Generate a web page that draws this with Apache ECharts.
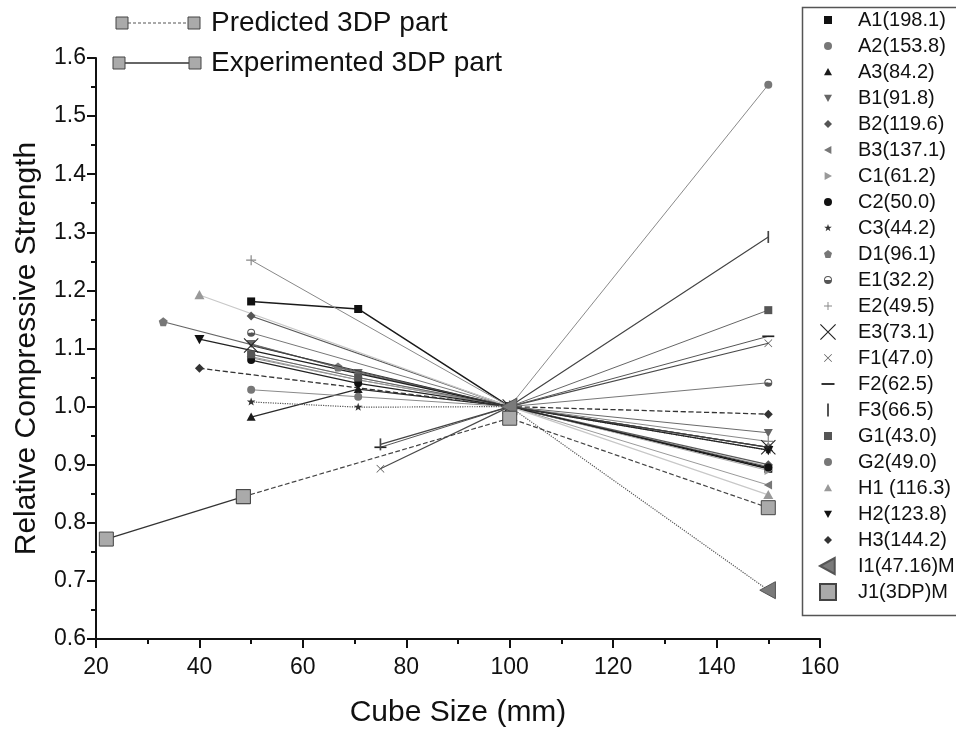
<!DOCTYPE html>
<html>
<head>
<meta charset="utf-8">
<title>Relative Compressive Strength vs Cube Size</title>
<script src="https://cdn.jsdelivr.net/npm/echarts@6/dist/echarts.min.js"></script>
<style>
  html, body { margin: 0; padding: 0; background: #ffffff; }
  #chart { width: 956px; height: 731px; }
</style>
</head>
<body>
<div id="chart"></div>
<script>
// ---- data: [cube size (mm), relative compressive strength] ----
const A1 = [[50, 1.181], [70.7, 1.168], [100, 1.0], [150, 0.893]];
const A2 = [[50, 1.084], [70.7, 1.046], [100, 1.0], [150, 0.897]];
const A3 = [[50, 0.982], [70.7, 1.030], [100, 1.0], [150, 0.930]];
const B1 = [[50, 1.108], [70.7, 1.058], [100, 1.0], [150, 0.955]];
const B2 = [[50, 1.156], [100, 1.0], [150, 0.900]];
const B3 = [[50, 1.086], [70.7, 1.046], [100, 1.0], [150, 0.865]];
const C1 = [[50, 1.090], [70.7, 1.050], [100, 1.0], [150, 0.890]];
const C2 = [[50, 1.080], [70.7, 1.040], [100, 1.0], [150, 0.895]];
const C3 = [[50, 1.008], [70.7, 0.999], [100, 1.0], [150, 0.925]];
const D1 = [[33, 1.146], [66.8, 1.068], [100, 1.0], [150, 0.930]];
const E1 = [[50, 1.127], [100, 1.0], [150, 1.041]];
const E2 = [[50, 1.252], [100, 1.0], [150, 0.940]];
const E3 = [[50, 1.105], [100, 1.0], [150, 0.930]];
const F1 = [[75, 0.893], [100, 1.0], [150, 1.109]];
const F2 = [[75, 0.930], [100, 1.0], [150, 1.121]];
const F3 = [[75, 0.935], [100, 1.0], [150, 1.292]];
const G1 = [[50, 1.090], [70.7, 1.050], [100, 1.0], [150, 1.166]];
const G2 = [[50, 1.029], [70.7, 1.017], [100, 1.0], [150, 1.554]];
const H1 = [[40, 1.192], [100, 1.0], [150, 0.848]];
const H2 = [[40, 1.116], [100, 1.0], [150, 0.925]];
const H3 = [[40, 1.066], [100, 1.0], [150, 0.987]];
const I1 = [[100, 1.0], [150, 0.684]];
const J1Predicted = [[48.5, 0.845], [100, 0.980], [150, 0.826]];
const J1Experimented = [[22, 0.772], [48.5, 0.845]];

const seriesNames = ['A1(198.1)', 'A2(153.8)', 'A3(84.2)', 'B1(91.8)', 'B2(119.6)', 'B3(137.1)',
  'C1(61.2)', 'C2(50.0)', 'C3(44.2)', 'D1(96.1)', 'E1(32.2)', 'E2(49.5)', 'E3(73.1)',
  'F1(47.0)', 'F2(62.5)', 'F3(66.5)', 'G1(43.0)', 'G2(49.0)', 'H1 (116.3)', 'H2(123.8)',
  'H3(144.2)', 'I1(47.16)M', 'J1(3DP)M'];
const seriesData = [A1, A2, A3, B1, B2, B3, C1, C2, C3, D1, E1, E2, E3,
  F1, F2, F3, G1, G2, H1, H2, H3, I1, J1Predicted];

const keyLabels = ['Predicted 3DP part', 'Experimented 3DP part'];

const xTicks = { min: 20, max: 160, step: 20 };
const yTicks = { min: 0.6, max: 1.6, step: 0.1 };

// ---- marker shapes, unit coordinates centred on 0 ----
const SHAPES = {
  square: [[[-0.5, -0.5], [0.5, -0.5], [0.5, 0.5], [-0.5, 0.5]]],
  triUp: [[[0, -0.5], [0.5, 0.42], [-0.5, 0.42]]],
  triDown: [[[-0.5, -0.42], [0.5, -0.42], [0, 0.5]]],
  triLeft: [[[-0.5, 0], [0.42, -0.5], [0.42, 0.5]]],
  triRight: [[[0.5, 0], [-0.42, -0.5], [-0.42, 0.5]]],
  diamond: [[[0, -0.5], [0.5, 0], [0, 0.5], [-0.5, 0]]],
  pentagon: [[[0, -0.5], [0.5, -0.12], [0.31, 0.5], [-0.31, 0.5], [-0.5, -0.12]]],
  star: [[[0, -0.5], [0.118, -0.162], [0.476, -0.155], [0.19, 0.062], [0.294, 0.405],
          [0, 0.2], [-0.294, 0.405], [-0.19, 0.062], [-0.476, -0.155], [-0.118, -0.162]]],
  plus: [[[-0.06, -0.5], [0.06, -0.5], [0.06, 0.5], [-0.06, 0.5]],
         [[-0.5, -0.06], [0.5, -0.06], [0.5, 0.06], [-0.5, 0.06]]],
  cross: [[[-0.5, -0.44], [-0.44, -0.5], [0.5, 0.44], [0.44, 0.5]],
          [[0.44, -0.5], [0.5, -0.44], [-0.44, 0.5], [-0.5, 0.44]]],
  crossThin: [[[-0.5, -0.45], [-0.45, -0.5], [0.5, 0.45], [0.45, 0.5]],
              [[0.45, -0.5], [0.5, -0.45], [-0.45, 0.5], [-0.5, 0.45]]],
  hbar: [[[-0.5, -0.07], [0.5, -0.07], [0.5, 0.07], [-0.5, 0.07]]],
  vbar: [[[-0.07, -0.5], [0.07, -0.5], [0.07, 0.5], [-0.07, 0.5]]]
};

// Path drawn inside a square frame (the two leading move-tos only fix its bounds),
// so every symbol keeps its own size within the frame.
function shapePath(shape, size, frame) {
  const c = frame / 2;
  const f = (v) => (+v).toFixed(3);
  let d = 'M0,0 M' + f(frame) + ',' + f(frame) + ' ';
  const circle = (r, sweep) =>
    'M' + f(c - r) + ',' + f(c) + ' A' + f(r) + ',' + f(r) + ' 0 1,' + sweep + ' ' + f(c + r) + ',' + f(c) +
    ' A' + f(r) + ',' + f(r) + ' 0 1,' + sweep + ' ' + f(c - r) + ',' + f(c) + ' Z ';
  if (shape === 'circle') {
    d += circle(size / 2, 0);
  } else if (shape === 'halfCircle') {
    // outlined circle whose lower half is filled
    const r = size / 2, ri = r - 1;
    d += circle(r, 0) + circle(ri, 1);
    d += 'M' + f(c - ri) + ',' + f(c) + ' A' + f(ri) + ',' + f(ri) + ' 0 0,0 ' + f(c + ri) + ',' + f(c) + ' Z';
  } else {
    SHAPES[shape].forEach((poly) => {
      poly.forEach((p, i) => {
        d += (i === 0 ? 'M' : 'L') + f(c + p[0] * size) + ',' + f(c + p[1] * size) + ' ';
      });
      d += 'Z ';
    });
  }
  return 'path://' + d;
}

// ---- look of each series ----
const LOOK = {
  'A1(198.1)':  { shape: 'square',   size: 8,  fill: '#111', line: '#1a1a1a', width: 1.5, type: 'solid' },
  'A2(153.8)':  { shape: 'circle',   size: 7,  fill: '#777', line: '#8a8a8a', width: 1,   type: 'solid' },
  'A3(84.2)':   { shape: 'triUp',    size: 9,  fill: '#1a1a1a', line: '#2a2a2a', width: 1.3, type: 'solid' },
  'B1(91.8)':   { shape: 'triDown',  size: 9,  fill: '#666', line: '#6a6a6a', width: 1,   type: 'solid' },
  'B2(119.6)':  { shape: 'diamond',  size: 9,  fill: '#555', line: '#5a5a5a', width: 1.2, type: 'solid' },
  'B3(137.1)':  { shape: 'triLeft',  size: 9,  fill: '#777', line: '#9a9a9a', width: 1,   type: 'solid' },
  'C1(61.2)':   { shape: 'triRight', size: 9,  fill: '#999', line: '#aaaaaa', width: 1,   type: 'solid' },
  'C2(50.0)':   { shape: 'circle',   size: 8,  fill: '#111', line: '#222222', width: 1.2, type: 'solid' },
  'C3(44.2)':   { shape: 'star',     size: 9,  fill: '#333', line: '#555555', width: 1.2, type: 'dotted' },
  'D1(96.1)':   { shape: 'pentagon', size: 9,  fill: '#777', line: '#666666', width: 1.2, type: 'solid' },
  'E1(32.2)':   { shape: 'halfCircle', size: 8, fill: '#555', line: '#777777', width: 1,  type: 'solid' },
  'E2(49.5)':   { shape: 'plus',     size: 10, fill: '#888', line: '#888888', width: 1,   type: 'solid' },
  'E3(73.1)':   { shape: 'crossThin',size: 15, fill: '#222', line: '#3a3a3a', width: 1,   type: 'solid' },
  'F1(47.0)':   { shape: 'cross',    size: 8,  fill: '#555', line: '#4a4a4a', width: 1.2, type: 'solid' },
  'F2(62.5)':   { shape: 'hbar',     size: 12, fill: '#222', line: '#555555', width: 1,   type: 'solid' },
  'F3(66.5)':   { shape: 'vbar',     size: 12, fill: '#444', line: '#444444', width: 1.2, type: 'solid' },
  'G1(43.0)':   { shape: 'square',   size: 8,  fill: '#555', line: '#666666', width: 1,   type: 'solid' },
  'G2(49.0)':   { shape: 'circle',   size: 8,  fill: '#777', line: '#8a8a8a', width: 1,   type: 'solid' },
  'H1 (116.3)': { shape: 'triUp',    size: 10, fill: '#999', line: '#c8c8c8', width: 1.2, type: 'solid' },
  'H2(123.8)':  { shape: 'triDown',  size: 10, fill: '#111', line: '#222222', width: 1.3, type: 'solid' },
  'H3(144.2)':  { shape: 'diamond',  size: 9,  fill: '#333', line: '#333333', width: 1.3, type: 'dashed' },
  'I1(47.16)M': { shape: 'triLeft',  size: 17, fill: '#7a7a7a', line: '#555555', width: 1.2, type: 'dotted', border: '#555' },
  'J1(3DP)M':   { shape: 'square',   size: 14, fill: '#aaaaaa', line: '#444444', width: 1.2, type: 'dashed', border: '#444' }
};

const FONT = '"Liberation Sans", Arial, Helvetica, sans-serif';
const FRAME_LEGEND = 18;

function lineSeries(name, data, look, extra) {
  const frame = look.size + 2;
  return Object.assign({
    name: name,
    type: 'line',
    data: data,
    symbol: shapePath(look.shape, look.size, frame),
    symbolSize: frame,
    symbolKeepAspect: true,
    showAllSymbol: true,
    animation: false,
    itemStyle: {
      color: look.fill,
      borderColor: look.border || look.fill,
      borderWidth: look.border ? 1 : 0,
      opacity: 1
    },
    lineStyle: { color: look.line, width: look.width, type: look.type },
    emphasis: { disabled: true },
    z: look.size >= 14 ? 4 : 3
  }, extra || {});
}

const series = seriesNames.map((n, i) => lineSeries(n, seriesData[i], LOOK[n]));
// measured segment of the 3DP part (drawn solid)
series.push(lineSeries('J1 experimented', J1Experimented, LOOK['J1(3DP)M'],
  { lineStyle: { color: '#333333', width: 1.3, type: 'solid' } }));

const legendData = seriesNames.map((n) => {
  const look = LOOK[n];
  const legendSize = look.size >= 14 ? 16 : (look.shape === 'hbar' || look.shape === 'vbar' ? 13 : 8);
  return { name: n, icon: shapePath(look.shape, legendSize, FRAME_LEGEND) };
});

const chart = echarts.init(document.getElementById('chart'), null, { renderer: 'canvas' });

const axisCommon = {
  type: 'value',
  nameLocation: 'middle',
  nameTextStyle: { fontFamily: FONT, fontSize: 30, color: '#111' },
  axisLine: { show: true, onZero: false, lineStyle: { color: '#111', width: 2 } },
  axisTick: { show: true, inside: false, length: 9, lineStyle: { color: '#111', width: 2 } },
  minorTick: { show: true, splitNumber: 2, length: 5, lineStyle: { color: '#111', width: 2 } },
  splitLine: { show: false }
};

const option = {
  backgroundColor: '#ffffff',
  animation: false,
  grid: { left: 96, right: 136, top: 58, bottom: 92, containLabel: false, outerBoundsMode: 'none' },
  xAxis: Object.assign({}, axisCommon, {
    min: xTicks.min, max: xTicks.max, interval: xTicks.step,
    name: 'Cube Size (mm)',
    nameGap: 59,
    axisLabel: { fontFamily: FONT, fontSize: 23, color: '#111', margin: 17 }
  }),
  yAxis: Object.assign({}, axisCommon, {
    min: yTicks.min, max: yTicks.max, interval: yTicks.step,
    name: 'Relative Compressive Strength',
    nameGap: 54,
    axisLabel: {
      fontFamily: FONT, fontSize: 23, color: '#111', margin: 10,
      formatter: (v) => v.toFixed(1)
    }
  }),
  legend: {
    orient: 'vertical',
    left: 818, top: 10,
    padding: 0,
    itemWidth: 50, itemHeight: FRAME_LEGEND,
    itemGap: 6,
    selectedMode: false,
    data: legendData,
    textStyle: { fontFamily: FONT, fontSize: 20, color: '#111' }
  },
  graphic: [
    // frame around the series legend
    { type: 'rect', left: 800, top: 5, shape: { width: 200, height: 608 },
      style: { fill: 'none', stroke: '#555', lineWidth: 1.5 }, z: 0 },
    // 3DP key, top left
    { type: 'line', shape: { x1: 128, y1: 23, x2: 188, y2: 23 },
      style: { stroke: '#555', lineWidth: 1.2, lineDash: [3, 2] }, z: 10 },
    { type: 'rect', shape: { x: 116, y: 17, width: 12, height: 12 },
      style: { fill: '#aaaaaa', stroke: '#444', lineWidth: 1 }, z: 11 },
    { type: 'rect', shape: { x: 188, y: 17, width: 12, height: 12 },
      style: { fill: '#aaaaaa', stroke: '#444', lineWidth: 1 }, z: 11 },
    { type: 'text', x: 211, y: 23,
      style: { text: keyLabels[0], font: '28px ' + FONT, fill: '#111', textVerticalAlign: 'middle' }, z: 11 },
    { type: 'line', shape: { x1: 125, y1: 63, x2: 189, y2: 63 },
      style: { stroke: '#333', lineWidth: 1.3 }, z: 10 },
    { type: 'rect', shape: { x: 113, y: 57, width: 12, height: 12 },
      style: { fill: '#aaaaaa', stroke: '#444', lineWidth: 1 }, z: 11 },
    { type: 'rect', shape: { x: 189, y: 57, width: 12, height: 12 },
      style: { fill: '#aaaaaa', stroke: '#444', lineWidth: 1 }, z: 11 },
    { type: 'text', x: 211, y: 63,
      style: { text: keyLabels[1], font: '28px ' + FONT, fill: '#111', textVerticalAlign: 'middle' }, z: 11 }
  ],
  series: series
};

chart.setOption(option);
</script>
</body>
</html>
